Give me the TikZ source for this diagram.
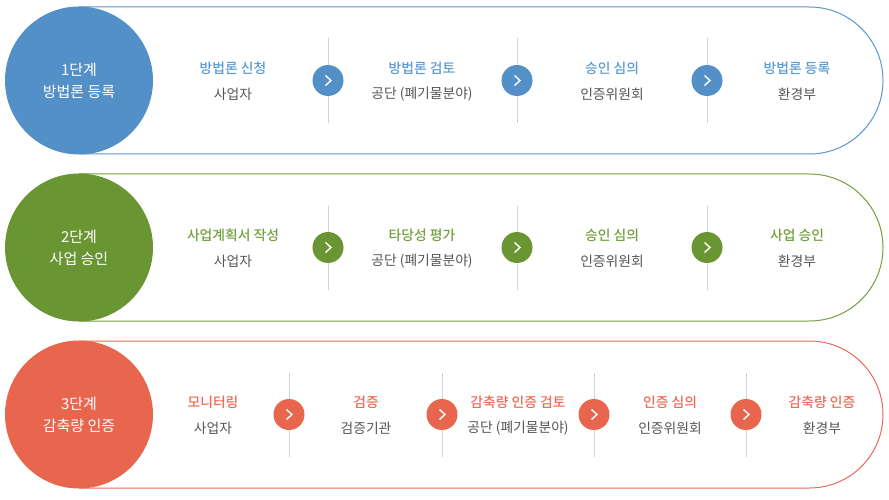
\documentclass[tikz,border=0pt]{standalone}
\usepackage{fontspec}
\setmainfont{Noto Sans CJK KR}
\newfontfamily\medfont{Noto Sans CJK KR Medium}
\definecolor{bluec}{HTML}{5390C8}
\definecolor{bluet}{HTML}{5B9BD5}
\definecolor{bluel}{HTML}{5B96CD}
\definecolor{greenc}{HTML}{6A9533}
\definecolor{greent}{HTML}{70A03C}
\definecolor{greenl}{HTML}{72A03A}
\definecolor{redc}{HTML}{E8654E}
\definecolor{redt}{HTML}{EE6A55}
\definecolor{redl}{HTML}{E8695A}
\definecolor{subgray}{HTML}{555555}
\definecolor{divgray}{HTML}{D2D2D2}
\begin{document}
\begin{tikzpicture}[x=1pt,y=-1pt,
    stage/.style={circle,fill=#1,minimum size=148pt,inner sep=0pt,text=white,align=center,font=\fontsize{15}{22}\selectfont},
    capsule/.style={draw=#1,line width=1pt},
    title/.style={text=#1,inner sep=0pt,font=\fontsize{13.8}{15}\selectfont\medfont},
    sub/.style={text=subgray,inner sep=0pt,font=\fontsize{13.8}{15}\selectfont},
    nextbtn/.style={circle,fill=#1,minimum size=31pt,inner sep=0pt},
    divider/.style={draw=divgray,line width=1pt},
    chev/.style={white,line width=1.4pt}]
    \useasboundingbox (0,0) rectangle (889,500);

    % 1단계
    \draw[capsule=bluel] (79,7) -- (809.5,7) arc[start angle=-90,end angle=90,radius=73.5] -- (79,154);
    \draw[divider] (328,38) -- (328,123); \node[nextbtn=bluec] (b1a) at (328,80.5) {}; \draw[chev] (b1a.center) ++(-2.5,-5) -- ++(5.5,5) -- ++(-5.5,5);
    \draw[divider] (517,38) -- (517,123); \node[nextbtn=bluec] (b2a) at (517,80.5) {}; \draw[chev] (b2a.center) ++(-2.5,-5) -- ++(5.5,5) -- ++(-5.5,5);
    \draw[divider] (707,38) -- (707,123); \node[nextbtn=bluec] (b3a) at (707,80.5) {}; \draw[chev] (b3a.center) ++(-2.5,-5) -- ++(5.5,5) -- ++(-5.5,5);
    \node[stage=bluec] (s1) at (79,80.5) {1단계\\방법론 등록};
    \node[title=bluet] (b1t) at (233,68) {방법론 신청}; \node[sub] (b1s) at (233,94) {사업자};
    \node[title=bluet] (b2t) at (422,68) {방법론 검토}; \node[sub] (b2s) at (422,94) {공단 (폐기물분야)};
    \node[title=bluet] (b3t) at (612,68) {승인 심의}; \node[sub] (b3s) at (612,94) {인증위원회};
    \node[title=bluet] (b4t) at (797,68) {방법론 등록}; \node[sub] (b4s) at (797,94) {환경부};

    % 2단계
    \draw[capsule=greenl] (79,174) -- (809.5,174) arc[start angle=-90,end angle=90,radius=73.5] -- (79,321);
    \draw[divider] (328,205.5) -- (328,289.5); \node[nextbtn=greenc] (g1a) at (328,247.5) {}; \draw[chev] (g1a.center) ++(-2.5,-5) -- ++(5.5,5) -- ++(-5.5,5);
    \draw[divider] (517,205.5) -- (517,289.5); \node[nextbtn=greenc] (g2a) at (517,247.5) {}; \draw[chev] (g2a.center) ++(-2.5,-5) -- ++(5.5,5) -- ++(-5.5,5);
    \draw[divider] (707,205.5) -- (707,289.5); \node[nextbtn=greenc] (g3a) at (707,247.5) {}; \draw[chev] (g3a.center) ++(-2.5,-5) -- ++(5.5,5) -- ++(-5.5,5);
    \node[stage=greenc] (s2) at (79,247.5) {2단계\\사업 승인};
    \node[title=greent] (g1t) at (233,235) {사업계획서 작성}; \node[sub] (g1s) at (233,261) {사업자};
    \node[title=greent] (g2t) at (422,235) {타당성 평가}; \node[sub] (g2s) at (422,261) {공단 (폐기물분야)};
    \node[title=greent] (g3t) at (612,235) {승인 심의}; \node[sub] (g3s) at (612,261) {인증위원회};
    \node[title=greent] (g4t) at (797,235) {사업 승인}; \node[sub] (g4s) at (797,261) {환경부};

    % 3단계
    \draw[capsule=redl] (79,341) -- (809.5,341) arc[start angle=-90,end angle=90,radius=73.5] -- (79,488);
    \draw[divider] (289,372.5) -- (289,456.5); \node[nextbtn=redc] (r1a) at (289,414.5) {}; \draw[chev] (r1a.center) ++(-2.5,-5) -- ++(5.5,5) -- ++(-5.5,5);
    \draw[divider] (442,372.5) -- (442,456.5); \node[nextbtn=redc] (r2a) at (442,414.5) {}; \draw[chev] (r2a.center) ++(-2.5,-5) -- ++(5.5,5) -- ++(-5.5,5);
    \draw[divider] (594,372.5) -- (594,456.5); \node[nextbtn=redc] (r3a) at (594,414.5) {}; \draw[chev] (r3a.center) ++(-2.5,-5) -- ++(5.5,5) -- ++(-5.5,5);
    \draw[divider] (746,372.5) -- (746,456.5); \node[nextbtn=redc] (r4a) at (746,414.5) {}; \draw[chev] (r4a.center) ++(-2.5,-5) -- ++(5.5,5) -- ++(-5.5,5);
    \node[stage=redc] (s3) at (79,414.5) {3단계\\감축량 인증};
    \node[title=redt] (r1t) at (213,402) {모니터링}; \node[sub] (r1s) at (213,428) {사업자};
    \node[title=redt] (r2t) at (366,402) {검증}; \node[sub] (r2s) at (366,428) {검증기관};
    \node[title=redt] (r3t) at (518,402) {감축량 인증 검토}; \node[sub] (r3s) at (518,428) {공단 (폐기물분야)};
    \node[title=redt] (r4t) at (670,402) {인증 심의}; \node[sub] (r4s) at (670,428) {인증위원회};
    \node[title=redt] (r5t) at (822,402) {감축량 인증}; \node[sub] (r5s) at (822,428) {환경부};
\end{tikzpicture}
\end{document}
